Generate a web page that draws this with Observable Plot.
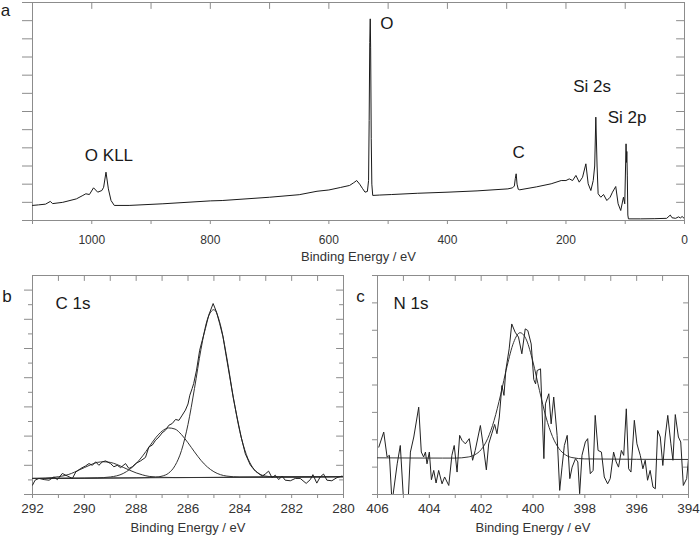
<!DOCTYPE html>
<html>
<head>
<meta charset="utf-8">
<script src="https://cdn.jsdelivr.net/npm/d3@7"></script>
<script src="https://cdn.jsdelivr.net/npm/@observablehq/plot@0.6"></script>
<style>
  html, body { margin: 0; padding: 0; background: #fff; }
  #root { position: relative; width: 700px; height: 540px; overflow: hidden; }
  .panel { position: absolute; }
</style>
</head>
<body>
<div id="root"></div>
<script>
// ---------------- data ----------------
// (a) survey spectrum: binding energy (eV) and intensity (arbitrary units, 1 unit = 1 y tick)
const surveyEnergy = [1100,1090,1078,1070,1066,1049,1026,1015,1010,1004,997,990,983,980,976,972,967.5,962,937,880,800,780,700,650,620,600,580,565,558,553,548,543,539,535,533,532,531,530.2,529.5,528.5,527.5,526,515,494,450,399,350,298,290,287,285.5,284,282.5,280.5,278,250,225,208,200,194.4,188.8,183.2,177.6,172,166.4,162.5,158,154,151.5,149.6,147.5,145.7,141.2,136.6,131,125.5,121.5,116,112,107.6,103,100.8,98.6,97.9,97.3,96.5,95.6,94.6,74,50,30,24,21,15,10,7,4,0];
const surveyCounts = [0.83,0.86,0.9,1.05,0.93,1.0,1.19,1.38,1.47,1.43,1.8,1.56,1.65,1.83,2.66,1.74,1.1,0.83,0.83,0.92,1.08,1.1,1.28,1.42,1.61,1.68,1.82,1.93,2.08,2.2,2.0,1.75,1.56,1.6,2.2,5.5,9.8,11.1,9.5,4.5,2.0,1.38,1.4,1.43,1.5,1.56,1.63,1.74,1.8,1.9,2.3,2.57,2.0,1.72,1.69,1.85,2.02,2.2,2.2,2.29,2.2,2.48,2.11,2.38,3.12,2.02,1.65,2.2,3.0,5.69,3.0,1.47,1.28,1.43,1.1,1.28,1.56,1.87,0.92,0.55,1.28,0.92,4.22,3.2,3.8,2.5,0.3,0.09,0.09,0.1,0.12,0.3,0.15,0.12,0.2,0.14,0.22,0.1];
const surveyPeakNames = ["O KLL", "O", "C", "Si 2s", "Si 2p"];
const surveyPeakEnergy = [971, 502, 280, 156, 97];
const surveyPeakLevel = [3.58, 10.86, 3.76, 7.37, 5.69];
const surveyXTicks = [0,100,200,300,400,500,600,700,800,900,1000,1100];
const surveyXLabels = [0,200,400,600,800,1000];
const surveyYTicks = [0,1,2,3,4,5,6,7,8,9,10,11,12];

// (b) C 1s region: measured trace
const c1sEnergy = [292.0,291.9,291.75,291.55,291.36,291.17,291.04,290.85,290.65,290.46,290.33,290.14,289.95,289.82,289.69,289.56,289.44,289.3,289.18,288.99,288.86,288.73,288.6,288.41,288.28,288.15,288.02,287.83,287.64,287.51,287.38,287.25,287.12,287.0,286.87,286.74,286.61,286.48,286.35,286.22,286.1,286.0,285.93,285.84,285.78,285.67,285.55,285.45,285.33,285.2,285.03,284.9,284.78,284.65,284.52,284.39,284.26,284.11,283.95,283.79,283.59,283.4,283.14,283.02,282.89,282.76,282.63,282.5,282.37,282.25,282.05,281.86,281.67,281.44,281.28,281.18,281.03,280.9,280.77,280.64,280.45,280.25,280.06];
const c1sCounts = [0.32,0.49,0.55,0.51,0.49,0.60,0.51,0.72,0.63,0.55,0.77,0.89,0.98,1.06,1.00,1.12,1.00,1.12,1.15,1.06,0.95,1.00,0.92,1.06,0.89,0.95,1.06,1.15,1.27,1.63,1.69,1.86,1.97,2.11,2.20,2.37,2.43,2.57,2.54,2.72,2.89,3.10,3.40,3.63,3.80,4.26,4.94,5.28,5.68,6.14,6.54,6.25,5.86,5.40,4.71,4.03,3.34,2.66,1.97,1.40,1.00,0.80,0.63,0.70,0.80,0.58,0.66,0.51,0.63,0.49,0.47,0.55,0.55,0.38,0.51,0.68,0.39,0.60,0.70,0.49,0.47,0.58,0.63];
// (b) fitted components [energy, intensity]
const c1sComponent285 = [[292,0.55],[288,0.57],[287.5,0.58],[287.25,0.59],[287,0.63],[286.75,0.73],[286.5,0.99],[286.25,1.51],[286,2.40],[285.75,3.63],[285.5,4.97],[285.25,6.00],[285,6.33],[284.75,5.81],[284.5,4.67],[284.25,3.32],[284,2.16],[283.75,1.37],[283.5,0.92],[283.25,0.71],[283,0.63],[282.75,0.61],[282,0.60],[280,0.61]];
const c1sComponent2867 = [[292,0.55],[290,0.56],[289.5,0.57],[289,0.60],[288.5,0.72],[288.25,0.86],[288,1.06],[287.75,1.32],[287.5,1.63],[287.25,1.94],[287,2.17],[286.75,2.28],[286.5,2.24],[286.25,2.05],[286,1.77],[285.75,1.46],[285.5,1.17],[285.25,0.94],[285,0.78],[284.5,0.63],[284,0.60],[283,0.60],[280,0.61]];
const c1sComponent2893 = [[292,0.55],[291.5,0.56],[291,0.61],[290.75,0.65],[290.5,0.72],[290.25,0.82],[290,0.92],[289.75,1.02],[289.5,1.10],[289.25,1.12],[289,1.10],[288.75,1.03],[288.5,0.93],[288.25,0.83],[288,0.74],[287.75,0.67],[287.5,0.62],[287,0.59],[286.5,0.58],[285,0.585],[280,0.61]];
const c1sBackground = [[292,0.55],[280,0.61]];
const c1sXTicks = [280,281,282,283,284,285,286,287,288,289,290,291,292];
const c1sXLabels = [280,282,284,286,288,290,292];
const c1sYMajor = [0,1,2,3,4,5,6,7];
const c1sYMinor = [0.5,1.5,2.5,3.5,4.5,5.5,6.5];

// (c) N 1s region: measured trace and fit
const n1sEnergy = [405.95,405.76,405.63,405.54,405.44,405.24,405.12,404.99,404.82,404.73,404.6,404.41,404.31,404.22,404.15,404.09,404.0,403.92,403.83,403.74,403.64,403.51,403.41,403.25,403.13,403.04,402.93,402.83,402.74,402.61,402.46,402.33,402.23,402.03,401.93,401.8,401.71,401.59,401.48,401.39,401.3,401.2,401.12,401.05,400.92,400.82,400.69,400.56,400.43,400.3,400.2,400.07,399.97,399.9,399.84,399.71,399.58,399.52,399.39,399.3,399.2,399.07,398.97,398.88,398.79,398.68,398.58,398.49,398.36,398.27,398.2,398.11,397.98,397.89,397.79,397.68,397.6,397.49,397.36,397.25,397.12,397.02,396.89,396.79,396.7,396.59,396.5,396.4,396.31,396.22,396.09,395.99,395.86,395.76,395.67,395.58,395.48,395.37,395.28,395.19,395.09,394.99,394.9,394.8,394.68,394.6,394.51,394.39,394.3,394.2,394.07,394.0];
const n1sCounts = [1.73,2.28,1.37,1.43,-0.3,1.12,1.79,-0.3,-0.3,1.55,2.1,3.19,1.55,1.37,1.55,1.12,1.55,0.54,0.88,0.42,0.88,0.39,0.64,0.33,1.43,1.79,0.82,2.16,1.98,1.85,2.04,1.25,1.61,2.52,1.85,0.9,1.85,2.22,2.56,2.22,2.83,3.98,3.62,4.53,5.32,6.23,5.93,5.75,5.14,6.05,5.99,5.5,4.2,4.04,4.53,4.59,1.31,3.31,3.68,2.58,3.56,2.16,0.15,1.0,1.79,2.16,0.58,1.0,1.31,1.19,0.03,1.43,1.92,2.04,0.76,0.88,2.89,1.61,1.55,0.64,0.39,0.58,1.55,1.19,1.0,1.61,1.43,3.13,0.94,0.82,2.71,1.85,1.43,0.94,1.25,0.52,0.88,0.27,0.21,2.34,2.1,1.06,2.1,2.89,1.85,1.25,2.92,2.1,1.92,0.33,0.58,1.31];
const n1sFit = [[406,1.34],[403.5,1.33],[403,1.33],[402.5,1.37],[402.25,1.45],[402,1.64],[401.75,2.04],[401.5,2.71],[401.25,3.64],[401,4.69],[400.75,5.55],[400.5,5.91],[400.25,5.64],[400,4.84],[399.75,3.80],[399.5,2.83],[399.25,2.12],[399,1.68],[398.75,1.45],[398.5,1.35],[398,1.30],[394,1.28]];
const n1sXTicks = [394,395,396,397,398,399,400,401,402,403,404,405,406];
const n1sXLabels = [394,396,398,400,402,404,406];
const n1sYTicks = [0,1,2,3,4,5,6,7,8];

const axisTitle = "Binding Energy / eV";

// ---------------- drawing ----------------
const FONT = '"Liberation Sans", Arial, Helvetica, sans-serif';
const FRAME = "#8c8c8c";
const INK = "#1a1a1a";
const TXT = "#333333";
const tickShape = { draw(context, l) { context.moveTo(0, 0); context.lineTo(0, -l); } };

function zipXY(E, I) { return E.map((e, i) => ({e, v: I[i]})); }
function pairs(P) { return P.map(([e, v]) => ({e, v})); }

function chrome(o) {
  const labelSet = new Set(o.xLabels);
  const marks = [
    Plot.frame({stroke: FRAME}),
    Plot.axisX({anchor: "bottom", ticks: o.xTicks, tickSize: o.bottomTick, tickPadding: o.tickPad,
      tickFormat: d => labelSet.has(d) ? String(d) : "", stroke: FRAME, fontSize: o.tickFont, label: null}),
    Plot.vector(o.xTicks, {x: d => d, frameAnchor: "top", rotate: 180, length: o.topTick, anchor: "start",
      shape: tickShape, stroke: FRAME, strokeWidth: 1})
  ];
  for (const g of o.yLeft) {
    marks.push(Plot.axisY({anchor: "left", ticks: g.ticks, tickSize: g.size, tickFormat: () => "", stroke: FRAME, label: null}));
  }
  for (const g of o.yRight) {
    marks.push(Plot.vector(g.ticks, {y: d => d, frameAnchor: "right", rotate: -90, length: g.size, anchor: "start",
      shape: tickShape, stroke: FRAME, strokeWidth: 1}));
  }
  marks.push(Plot.text([axisTitle], {text: d => d, frameAnchor: "bottom", dy: o.titleDy, lineAnchor: "top",
    textAnchor: "middle", fontSize: 13, fill: TXT}));
  marks.push(Plot.text([o.tag], {text: d => d, frameAnchor: "top-left", dx: o.tagDx, dy: o.tagDy,
    textAnchor: "middle", lineAnchor: "middle", fontSize: 17, fill: INK}));
  return marks;
}

function place(svg, left, top, width) {
  const div = document.createElement("div");
  div.className = "panel";
  div.style.left = left + "px";
  div.style.top = top + "px";
  div.style.width = width + "px";
  div.appendChild(svg);
  document.getElementById("root").appendChild(div);
}

const baseStyle = {fontFamily: FONT, color: TXT, background: "transparent", overflow: "visible"};

// panel a
const survey = zipXY(surveyEnergy, surveyCounts);
const surveyPeaks = surveyPeakNames.map((name, i) => ({name, e: surveyPeakEnergy[i], v: surveyPeakLevel[i]}));
place(Plot.plot({
  width: 700, height: 264,
  marginLeft: 32, marginRight: 16, marginTop: 2, marginBottom: 44,
  x: {domain: [1100, 0]},
  y: {domain: [0, 12]},
  style: {...baseStyle, fontSize: "12px"},
  marks: [
    ...chrome({xTicks: surveyXTicks, xLabels: surveyXLabels, bottomTick: 4, tickPad: 11, tickFont: 12, topTick: 6,
      yLeft: [{ticks: surveyYTicks, size: 10}], yRight: [{ticks: surveyYTicks, size: 8}],
      titleDy: 31, tag: "a", tagDx: -27, tagDy: 8}),
    Plot.line(survey, {x: "e", y: "v", stroke: INK, strokeWidth: 1, clip: true}),
    Plot.text(surveyPeaks, {x: "e", y: "v", text: "name", fontSize: 17, fill: INK, textAnchor: "middle", lineAnchor: "middle"})
  ]
}), 0, 0, 700);

// panel b
place(Plot.plot({
  width: 350, height: 278,
  marginLeft: 32, marginRight: 7, marginTop: 13, marginBottom: 46,
  x: {domain: [292, 280]},
  y: {domain: [0, 7.5]},
  style: {...baseStyle, fontSize: "13px"},
  marks: [
    ...chrome({xTicks: c1sXTicks, xLabels: c1sXLabels, bottomTick: 4, tickPad: 5, tickFont: 13.5, topTick: 5,
      yLeft: [{ticks: c1sYMajor, size: 8}, {ticks: c1sYMinor, size: 4}],
      yRight: [{ticks: c1sYMajor, size: 7}, {ticks: c1sYMinor, size: 4}],
      titleDy: 28.5, tag: "b", tagDx: -25.5, tagDy: 21}),
    Plot.line(pairs(c1sBackground), {x: "e", y: "v", stroke: "#444", strokeWidth: 1, clip: true}),
    Plot.line(pairs(c1sComponent2893), {x: "e", y: "v", stroke: "#333", strokeWidth: 1, curve: "monotone-x", clip: true}),
    Plot.line(pairs(c1sComponent2867), {x: "e", y: "v", stroke: "#333", strokeWidth: 1, curve: "monotone-x", clip: true}),
    Plot.line(pairs(c1sComponent285), {x: "e", y: "v", stroke: "#333", strokeWidth: 1, curve: "monotone-x", clip: true}),
    Plot.line(zipXY(c1sEnergy, c1sCounts), {x: "e", y: "v", stroke: "#222", strokeWidth: 1, clip: true}),
    Plot.text(["C 1s"], {text: d => d, frameAnchor: "top-left", dx: 23, dy: 28, textAnchor: "start", lineAnchor: "middle", fontSize: 17, fill: INK})
  ]
}), 0, 262, 350);

// panel c
place(Plot.plot({
  width: 350, height: 278,
  marginLeft: 27, marginRight: 12, marginTop: 13, marginBottom: 46,
  x: {domain: [406, 394]},
  y: {domain: [0, 8]},
  style: {...baseStyle, fontSize: "13px"},
  marks: [
    ...chrome({xTicks: n1sXTicks, xLabels: n1sXLabels, bottomTick: 4, tickPad: 5, tickFont: 13.5, topTick: 5,
      yLeft: [{ticks: n1sYTicks, size: 5}], yRight: [{ticks: n1sYTicks, size: 5}],
      titleDy: 28.5, tag: "c", tagDx: -17, tagDy: 21}),
    Plot.line(pairs(n1sFit), {x: "e", y: "v", stroke: "#333", strokeWidth: 1, curve: "monotone-x", clip: true}),
    Plot.line(zipXY(n1sEnergy, n1sCounts), {x: "e", y: "v", stroke: "#222", strokeWidth: 1, clip: true}),
    Plot.text(["N 1s"], {text: d => d, frameAnchor: "top-left", dx: 16, dy: 28, textAnchor: "start", lineAnchor: "middle", fontSize: 17, fill: INK})
  ]
}), 350, 262, 350);
</script>
</body>
</html>
